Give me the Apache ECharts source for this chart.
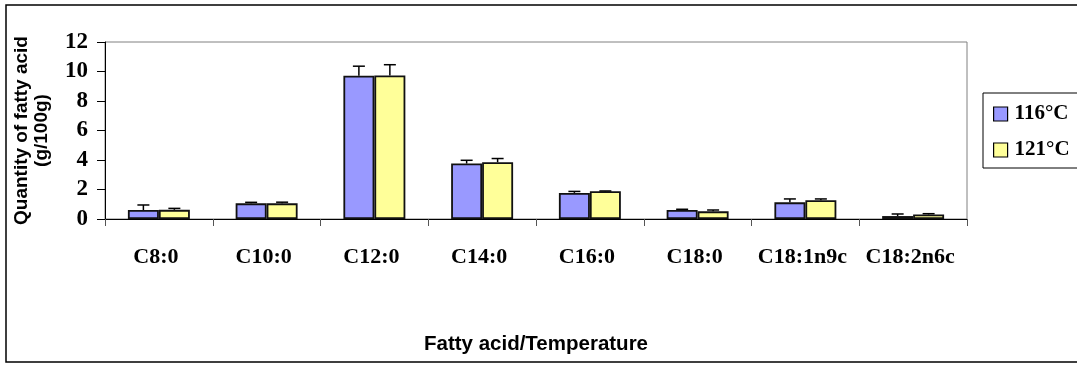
<!DOCTYPE html>
<html>
<head>
<meta charset="utf-8">
<script src="https://cdn.jsdelivr.net/npm/echarts@6/dist/echarts.min.js"></script>
<style>
html,body{margin:0;padding:0;background:#fff;}
#chart{width:1077px;height:365px;}
</style>
</head>
<body>
<div id="chart"></div>
<script>
const categories = ['C8:0','C10:0','C12:0','C14:0','C16:0','C18:0','C18:1n9c','C18:2n6c'];
const seriesNames = ['116°C','121°C'];
const values116 = [0.61, 1.06, 9.71, 3.76, 1.77, 0.61, 1.13, 0.20];
const errors116 = [0.34, 0.07, 0.65, 0.22, 0.10, 0.05, 0.23, 0.14];
const values121 = [0.62, 1.06, 9.73, 3.85, 1.88, 0.52, 1.27, 0.31];
const errors121 = [0.10, 0.08, 0.73, 0.25, 0.02, 0.09, 0.09, 0.05];
const yTicks = [0, 2, 4, 6, 8, 10, 12];

const serif = 'Liberation Serif, Times New Roman, serif';
const sans = 'Liberation Sans, Arial, sans-serif';
const barFrac = 0.575; // pair of bars fraction of category width

const chart = echarts.init(document.getElementById('chart'));

function errSeries(vals, errs, idx) {
  return {
    type: 'custom',
    z: 5,
    silent: true,
    data: vals.map((v, i) => [i, v, errs[i]]),
    renderItem: function (params, api) {
      const i = api.value(0), v = api.value(1), e = api.value(2);
      const catW = api.size([1, 0])[0];
      const bw = catW * barFrac / 2;
      const base = api.coord([i, v]);
      const top = api.coord([i, v + e]);
      const x = base[0] + (idx - 0.5) * bw;
      const cap = 6;
      return {
        type: 'group',
        children: [
          {type: 'line', shape: {x1: x, y1: base[1], x2: x, y2: top[1]}, style: {stroke: '#000', lineWidth: 1.5}},
          {type: 'line', shape: {x1: x - cap, y1: top[1], x2: x + cap, y2: top[1]}, style: {stroke: '#000', lineWidth: 1.5}}
        ]
      };
    }
  };
}

chart.setOption({
  animation: false,
  backgroundColor: '#fff',
  graphic: [{
    type: 'rect',
    shape: {x: 6, y: 5, width: 1100, height: 357},
    style: {fill: 'none', stroke: '#000', lineWidth: 1.5},
    z: 100
  }],
  grid: {
    left: 105, right: 110, top: 42, bottom: 146,
    containLabel: false, outerBoundsMode: 'none',
    show: true, borderColor: '#808080', borderWidth: 1, backgroundColor: '#fff'
  },
  legend: {
    orient: 'vertical',
    left: 983, top: 93,
    borderColor: '#000', borderWidth: 1,
    padding: [10, 12, 7, 10],
    itemGap: 14,
    itemWidth: 14, itemHeight: 14,
    icon: 'rect',
    data: seriesNames,
    textStyle: {fontFamily: serif, fontWeight: 'bold', fontSize: 21, color: '#000', lineHeight: 22, padding: [0, 0, 0, 2]},
    itemStyle: {borderColor: '#000', borderWidth: 1.2}
  },
  xAxis: {
    type: 'category',
    data: categories,
    name: 'Fatty acid/Temperature',
    nameLocation: 'middle',
    nameGap: 115,
    nameTextStyle: {fontFamily: sans, fontWeight: 'bold', fontSize: 20.5, color: '#000'},
    axisLine: {lineStyle: {color: '#000', width: 1}},
    axisTick: {show: true, length: 7, lineStyle: {color: '#555'}},
    axisLabel: {interval: 0, fontFamily: serif, fontWeight: 'bold', fontSize: 22, color: '#000', margin: 27,
      padding: [0, 6, 0, 0]}
  },
  yAxis: {
    type: 'value',
    min: 0, max: 12, interval: 2,
    name: 'Quantity of fatty acid\n(g/100g)',
    nameLocation: 'middle',
    nameRotate: 90,
    nameGap: 53,
    nameTextStyle: {fontFamily: sans, fontWeight: 'bold', fontSize: 19, color: '#000', lineHeight: 20, align: 'center'},
    axisLine: {show: true, lineStyle: {color: '#000', width: 1}},
    axisTick: {show: true, length: 8, lineStyle: {color: '#000'}},
    splitLine: {show: false},
    axisLabel: {fontFamily: serif, fontWeight: 'bold', fontSize: 23, color: '#000', margin: 17,
      formatter: v => yTicks.indexOf(v) >= 0 ? String(v) : ''}
  },
  series: [
    {name: seriesNames[0], type: 'bar', data: values116, barGap: '0%', barCategoryGap: '42.5%',
     itemStyle: {color: '#9999FF', borderColor: '#111', borderWidth: 1.8}},
    {name: seriesNames[1], type: 'bar', data: values121, barGap: '0%', barCategoryGap: '42.5%',
     itemStyle: {color: '#FFFF99', borderColor: '#111', borderWidth: 1.8}},
    errSeries(values116, errors116, 0),
    errSeries(values121, errors121, 1)
  ]
});
</script>
</body>
</html>
